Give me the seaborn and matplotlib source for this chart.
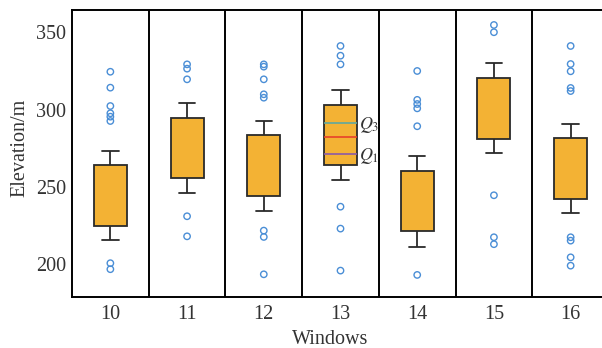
import numpy as np
import pandas as pd
import matplotlib
matplotlib.use("Agg")
import matplotlib.pyplot as plt
import seaborn as sns

windows = ["10", "11", "12", "13", "14", "15", "16"]
whisker_low = [215.5, 245.8, 234.3, 254.4, 211.2, 271.7, 232.8]
box_low = [224.8, 255.5, 244.0, 264.1, 221.2, 281.2, 242.1]
box_mid = [244.5, 275.2, 263.6, 282.1, 240.7, 300.8, 261.8]
box_high = [264.3, 294.8, 283.3, 303.2, 260.2, 320.5, 281.6]
whisker_high = [273.4, 304.1, 292.8, 312.7, 269.9, 330.0, 290.9]

outliers = {
    "10": [324.5, 314.2, 302.3, 297.6, 295.4, 292.6, 200.5, 196.6],
    "11": [329.3, 326.5, 319.6, 230.9, 217.9],
    "12": [329.3, 327.8, 319.6, 309.9, 307.7, 221.6, 217.5, 193.3],
    "13": [341.2, 334.9, 329.3, 237.1, 222.9, 195.7],
    "14": [325.0, 306.3, 303.6, 300.8, 289.2, 192.9],
    "15": [354.8, 350.1, 244.5, 217.3, 212.8],
    "16": [341.2, 329.5, 324.8, 314.0, 312.0, 217.3, 215.1, 204.3, 198.9],
}

# Quartile markers drawn inside window 13
q_window = "13"
q3_value = 291.1
median_value = 282.1
q1_value = 271.2

sns.set_style("white")
plt.rcParams["font.family"] = ["Liberation Serif", "DejaVu Serif"]
plt.rcParams["mathtext.fontset"] = "stix"

box_rows = []
for i, w in enumerate(windows):
    for v in (whisker_low[i], box_low[i], box_mid[i], box_high[i], whisker_high[i]):
        box_rows.append({"Windows": w, "Elevation": v})
box_df = pd.DataFrame(box_rows)

out_rows = [{"Windows": w, "Elevation": v} for w in windows for v in outliers[w]]
out_df = pd.DataFrame(out_rows)

fig = plt.figure(figsize=(6.02, 3.48), dpi=100)
ax = fig.add_axes([72 / 602, 1 - 297 / 348, (609 - 72) / 602, 287 / 348])

edge = "#2a2a2a"
sns.boxplot(data=box_df, x="Windows", y="Elevation", order=windows, whis=(0, 100),
            width=0.43, color="#F3B234", saturation=1, linewidth=1.3,
            showfliers=False, ax=ax,
            boxprops=dict(edgecolor=edge, facecolor="#F3B234"),
            whiskerprops=dict(color=edge), capprops=dict(color=edge),
            medianprops=dict(linewidth=0))

sns.stripplot(data=out_df, x="Windows", y="Elevation", order=windows, jitter=False,
              marker="o", size=4.6, facecolor="none", edgecolor="#4A8ED6",
              linewidth=1.0, color="#4A8ED6", ax=ax)
for coll in ax.collections:
    coll.set_facecolor("none")
    coll.set_edgecolor("#4A8ED6")

xi = windows.index(q_window)
half = 0.43 / 2
ax.hlines([q3_value], xi - half, xi + half, color="#5FA8A0", lw=1.2, zorder=5)
ax.hlines([median_value], xi - half, xi + half, color="#E8402A", lw=1.2, zorder=5)
ax.hlines([q1_value], xi - half, xi + half, color="#8A5AA8", lw=1.2, zorder=5)
ax.text(xi + half + 0.02, q3_value - 1, r"$Q_3$", va="center", ha="left", fontsize=13, color="#333333")
ax.text(xi + half + 0.02, q1_value - 1, r"$Q_1$", va="center", ha="left", fontsize=13, color="#333333")

for k in range(len(windows) - 1):
    ax.axvline(k + 0.5, color="black", lw=1.4, zorder=1)

ax.set_xlim(-0.5, len(windows) - 0.5)
ax.set_ylim(178.6, 364.5)
ax.set_yticks([200, 250, 300, 350])
for s in ax.spines.values():
    s.set_linewidth(1.4)
    s.set_color("black")
ax.tick_params(axis="y", direction="in", length=8, width=1.3, labelsize=14.5, colors="#333333",
               pad=4)
ax.tick_params(axis="x", length=0, labelsize=14.5, colors="#333333", pad=6)
ax.set_xlabel("Windows", fontsize=14.5, color="#333333", labelpad=0)
ax.set_ylabel("Elevation/m", fontsize=14.5, color="#333333", labelpad=2)
ax.xaxis.set_label_coords((330 - 72) / (609 - 72), -0.115)
ax.yaxis.set_label_coords((29 - 72) / (609 - 72), (297 - 148) / 287)

fig.savefig("out.png", dpi=100)
